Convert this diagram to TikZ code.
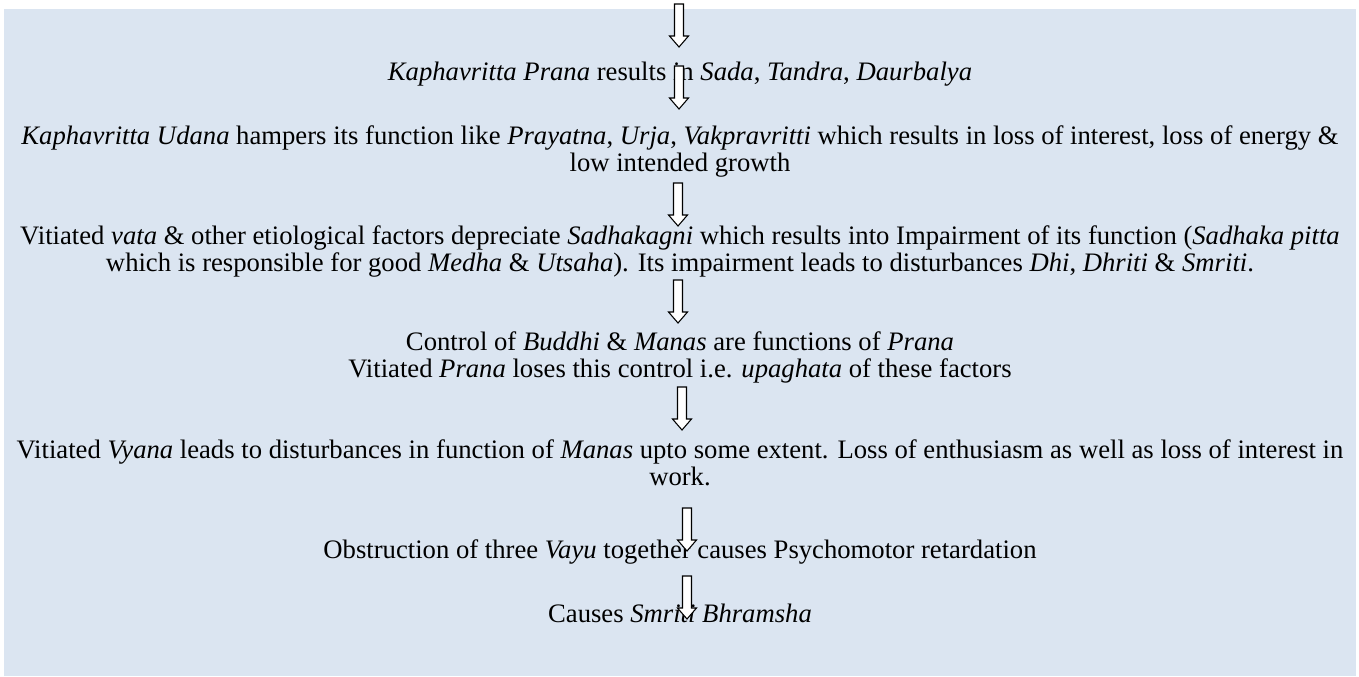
\documentclass[tikz,border=0pt]{standalone}
\usepackage{fontspec}
\setmainfont{Liberation Serif}
\definecolor{panel}{HTML}{DBE5F1}
\tikzset {
    step text/.style = {
        anchor = base,
        align = center,
        inner sep = 0pt,
        font = \fontsize{20}{20.25}\selectfont
    },
    down arrow/.pic = {
        \draw [fill = white, line width = 0.8pt, line join = miter]
            (-4.5, 0) -- (-4.5, 32) -- (-9.5, 32) -- (0, 43)
            -- (9.5, 32) -- (4.5, 32) -- (4.5, 0) -- cycle;
    }
}
\begin{document}
\begin{tikzpicture}[x = 0.75pt, y = -0.75pt]
    \useasboundingbox (0, 0) rectangle (1359, 676);
    \fill [panel] (4, 9) rectangle (1356, 676);
    % text of each step (base = last line)
    \node (p1) [step text] at (680, 80) {\textit{Kaphavritta Prana} results in \textit{Sada}, \textit{Tandra}, \textit{Daurbalya}};
    \node (p2) [step text] at (680, 171) {\textit{Kaphavritta Udana} hampers its function like \textit{Prayatna}, \textit{Urja}, \textit{Vakpravritti} which results in loss of interest, loss of energy \&\\ low intended growth};
    \node (p3) [step text] at (680, 271) {Vitiated \textit{vata} \& other etiological factors depreciate \textit{Sadhakagni} which results into Impairment of its function (\textit{Sadhaka pitta}\\ which is responsible for good \textit{Medha} \& \textit{Utsaha}). Its impairment leads to disturbances \textit{Dhi}, \textit{Dhriti} \& \textit{Smriti}.};
    \node (p4) [step text] at (680, 377) {Control of \textit{Buddhi} \& \textit{Manas} are functions of \textit{Prana}\\ Vitiated \textit{Prana} loses this control i.e. \textit{upaghata} of these factors};
    \node (p5) [step text] at (680, 485) {Vitiated \textit{Vyana} leads to disturbances in function of \textit{Manas} upto some extent. Loss of enthusiasm as well as loss of interest in\\ work.};
    \node (p6) [step text] at (680, 558) {Obstruction of three \textit{Vayu} together causes Psychomotor retardation};
    \node (p7) [step text] at (680, 622) {Causes \textit{Smriti Bhramsha}};
    % arrows
    \coordinate (t1) at (679, 4);
    \coordinate (t2) at (679, 66);
    \coordinate (t3) at (678, 183);
    \coordinate (t4) at (678, 280);
    \coordinate (t5) at (682, 387);
    \coordinate (t6) at (687, 508);
    \coordinate (t7) at (687, 576);
    \foreach \t in {t1, t2, t3, t4, t5, t6, t7}
        \pic at (\t) {down arrow};
\end{tikzpicture}
\end{document}
